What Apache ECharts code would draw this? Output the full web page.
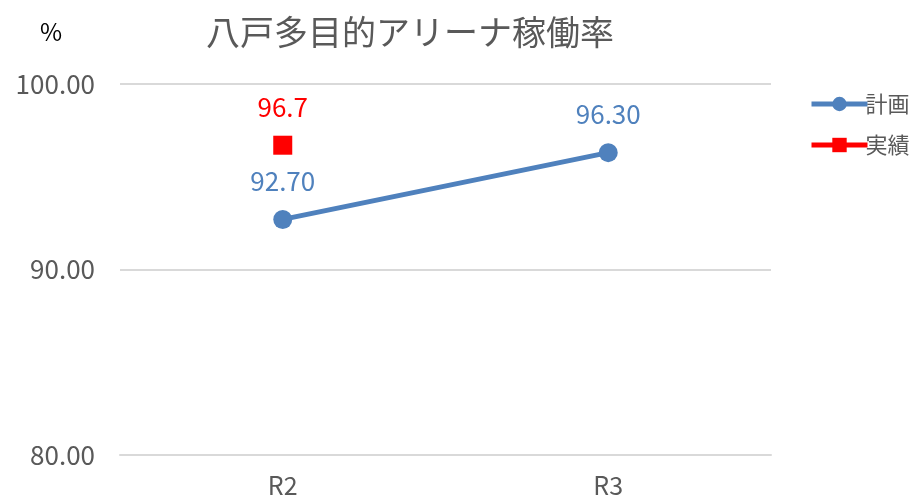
<!DOCTYPE html>
<html>
<head>
<meta charset="utf-8">
<script src="https://cdn.jsdelivr.net/npm/echarts@6/dist/echarts.min.js"></script>
<style>
  html, body { margin: 0; padding: 0; background: #fff; }
  #main { width: 914px; height: 500px; }
</style>
</head>
<body>
<div id="main"></div>
<script>
var categories = ['R2', 'R3'];
var plan = [92.7, 96.3];
var actual = [96.7, null];
var yTicks = [80, 90, 100];

var FONT = 'Noto Sans CJK JP';
var BLUE = '#4f81bd';
var RED = '#ff0000';

var myChart = echarts.init(document.getElementById('main'));

var option = {
  backgroundColor: '#ffffff',
  textStyle: { fontFamily: FONT },
  title: {
    text: '八戸多目的アリーナ稼働率',
    left: 201,
    top: 10,
    textStyle: { fontFamily: FONT, fontSize: 34, fontWeight: 'normal', color: '#595959' }
  },
  graphic: [{
    type: 'text',
    left: 40,
    top: 20,
    style: { text: '%', font: '24px "' + FONT + '"', fill: '#000000' }
  }],
  legend: {
    orient: 'vertical',
    left: 804,
    top: 88,
    itemWidth: 56,
    itemHeight: 18,
    itemGap: 19,
    lineStyle: { width: 5 },
    textStyle: { fontFamily: FONT, fontSize: 22, color: '#595959', padding: [0, 0, 0, -7] },
    data: ['計画', '実績']
  },
  grid: {
    left: 120,
    right: 143,
    top: 84,
    bottom: 45,
    containLabel: false
  },
  xAxis: {
    type: 'category',
    data: categories,
    boundaryGap: true,
    axisLine: { show: true, lineStyle: { color: '#d9d9d9', width: 2 } },
    axisTick: { show: false },
    axisLabel: { fontFamily: FONT, fontSize: 25, color: '#595959', margin: 18 }
  },
  yAxis: {
    type: 'value',
    min: yTicks[0],
    max: yTicks[yTicks.length - 1],
    interval: 10,
    axisLine: { show: false },
    axisTick: { show: false },
    splitLine: { lineStyle: { color: '#d9d9d9', width: 2 } },
    axisLabel: {
      fontFamily: FONT, fontSize: 26, color: '#595959', margin: 25,
      formatter: function (v) { return v.toFixed(2); }
    }
  },
  series: [
    {
      name: '計画',
      type: 'line',
      data: plan,
      symbol: 'circle',
      symbolSize: 19,
      itemStyle: { color: BLUE },
      lineStyle: { color: BLUE, width: 5 },
      label: {
        show: true,
        position: 'top',
        distance: 16,
        fontFamily: FONT,
        fontSize: 26,
        color: BLUE,
        formatter: function (p) { return p.value.toFixed(2); }
      }
    },
    {
      name: '実績',
      type: 'line',
      data: actual,
      symbol: 'rect',
      symbolSize: 19,
      itemStyle: { color: RED },
      lineStyle: { color: RED, width: 5 },
      label: {
        show: true,
        position: 'top',
        distance: 16,
        fontFamily: FONT,
        fontSize: 26,
        color: RED
      }
    }
  ]
};

myChart.setOption(option);
</script>
</body>
</html>
